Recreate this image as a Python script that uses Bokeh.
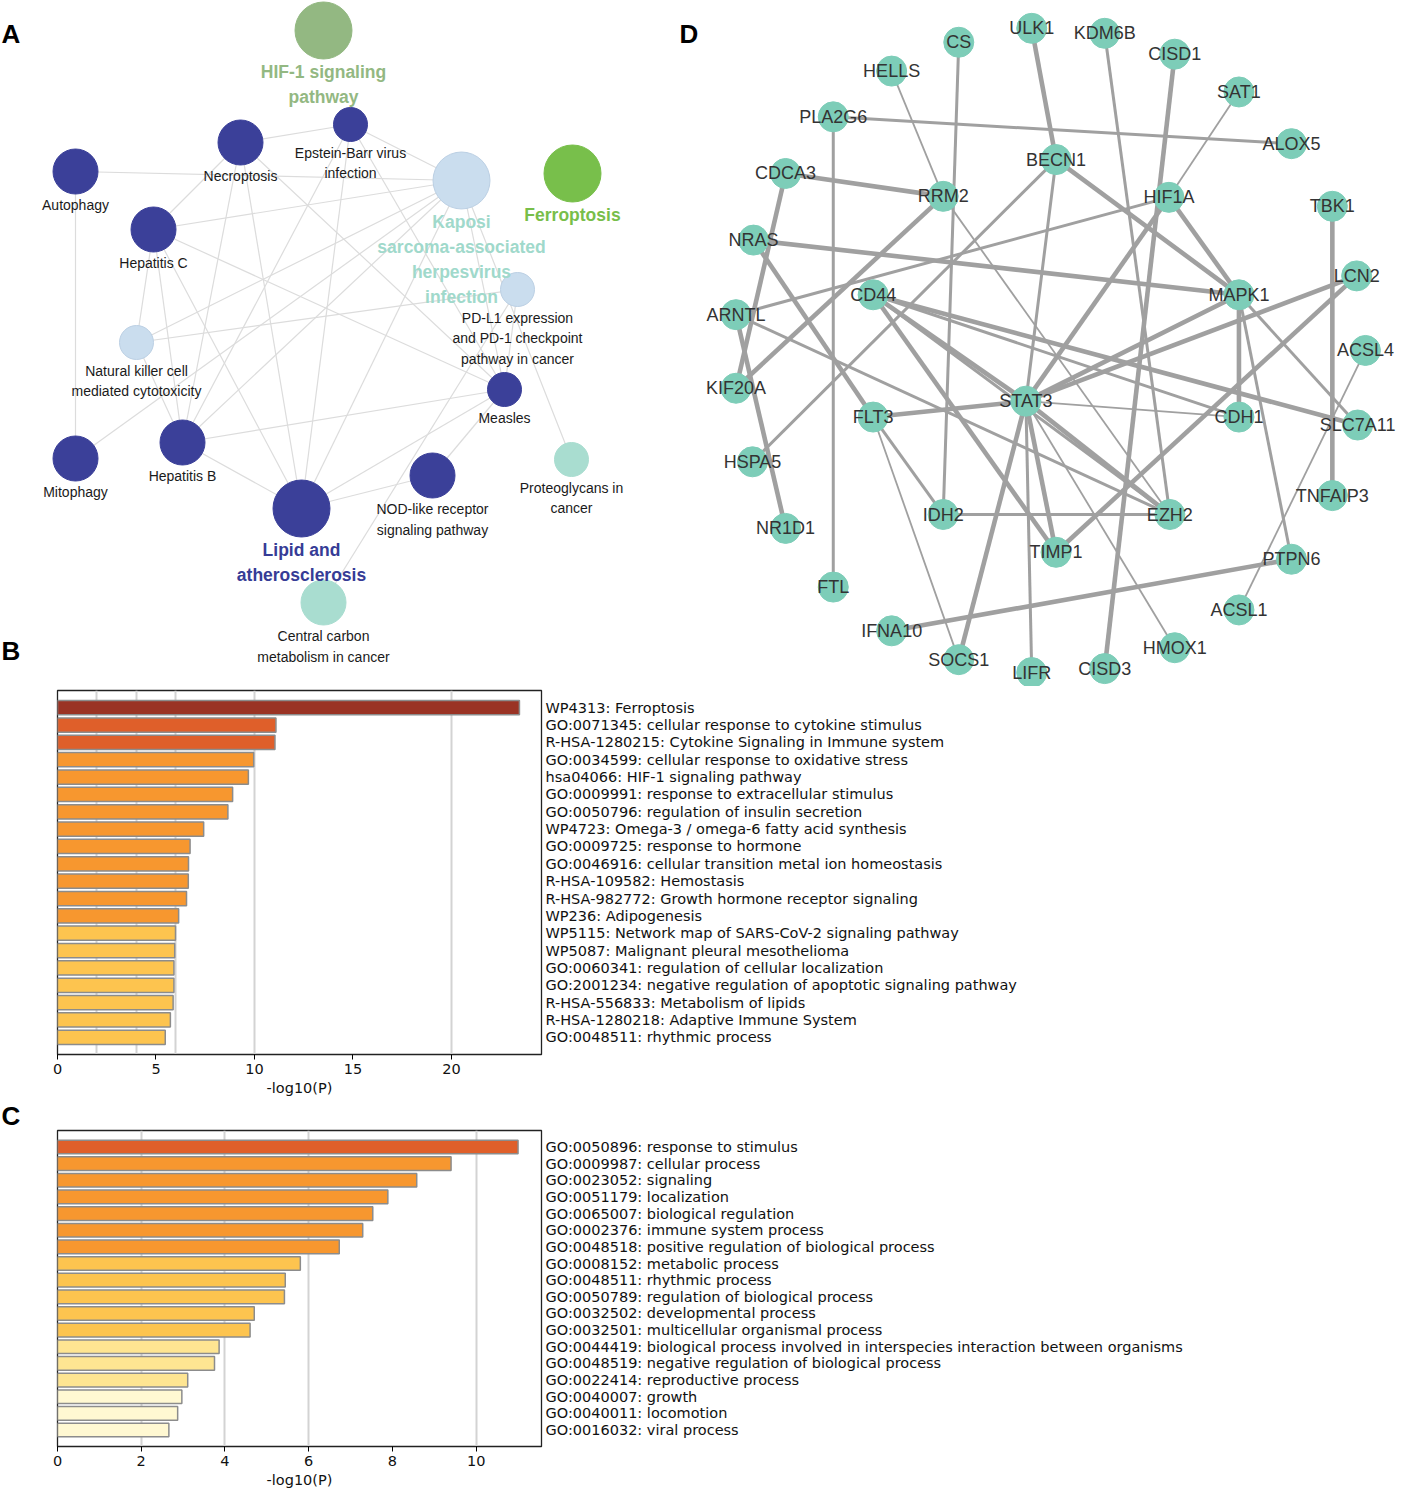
from bokeh.plotting import figure
from bokeh.models import Range1d, FixedTicker, ColumnDataSource
from bokeh.layouts import column
from bokeh.embed import file_html
from bokeh.resources import INLINE
from bokeh.core.properties import value

# ---------------- Panel A: pathway network ----------------
a_keys = ["HIF", "EBV", "NEC", "AUT", "HEPC", "KSHV", "FER", "PDL1", "NK", "MEA",
          "MIT", "HEPB", "NOD", "PRO", "LIP", "CCM"]
a_labels = ["HIF-1 signaling\npathway", "Epstein-Barr virus\ninfection", "Necroptosis",
            "Autophagy", "Hepatitis C", "Kaposi\nsarcoma-associated\nherpesvirus\ninfection",
            "Ferroptosis", "PD-L1 expression\nand PD-1 checkpoint\npathway in cancer",
            "Natural killer cell\nmediated cytotoxicity", "Measles", "Mitophagy", "Hepatitis B",
            "NOD-like receptor\nsignaling pathway", "Proteoglycans in\ncancer",
            "Lipid and\natherosclerosis", "Central carbon\nmetabolism in cancer"]
a_x = [323, 350, 240, 75, 153, 461, 572, 517, 136, 504, 75, 182, 432, 571, 301, 323]
a_y = [30, 124, 142, 171, 229, 180, 173, 289, 342, 389, 458, 442, 475, 459, 508, 602]
a_cluster = ["hif", "blue", "blue", "blue", "blue", "lblue", "ferro", "lblue", "lblue", "blue",
             "blue", "blue", "blue", "teal", "blue", "teal"]
a_rank = ["L", "S", "M", "M", "M", "L", "L", "S", "S", "S", "M", "M", "M", "S", "L", "M"]
a_edges = [("AUT", "KSHV"), ("AUT", "MIT"), ("MIT", "KSHV"), ("NEC", "EBV"), ("NEC", "HEPC"),
           ("NEC", "LIP"), ("NEC", "HEPB"), ("NEC", "MEA"), ("HEPC", "KSHV"), ("HEPC", "NK"),
           ("HEPC", "HEPB"), ("HEPC", "LIP"), ("HEPC", "MEA"), ("NK", "PDL1"), ("NK", "HEPB"),
           ("NK", "KSHV"), ("HEPB", "MEA"), ("HEPB", "LIP"), ("HEPB", "KSHV"), ("HEPB", "EBV"),
           ("LIP", "EBV"), ("LIP", "KSHV"), ("LIP", "NOD"), ("LIP", "MEA"), ("NOD", "MEA"),
           ("CCM", "PDL1"), ("PRO", "KSHV"), ("MEA", "KSHV"), ("MEA", "PDL1"), ("MEA", "EBV"),
           ("EBV", "KSHV")]

# ---------------- Panel D: gene network ----------------
d_genes = ["ULK1", "CS", "KDM6B", "HELLS", "CISD1", "SAT1", "PLA2G6", "ALOX5", "BECN1", "CDCA3",
           "RRM2", "HIF1A", "TBK1", "NRAS", "LCN2", "CD44", "MAPK1", "ARNTL", "ACSL4", "KIF20A",
           "STAT3", "FLT3", "CDH1", "SLC7A11", "HSPA5", "TNFAIP3", "IDH2", "EZH2", "NR1D1", "TIMP1",
           "PTPN6", "FTL", "ACSL1", "IFNA10", "HMOX1", "SOCS1", "LIFR", "CISD3"]
d_x = [1041, 966, 1116, 897, 1188, 1254, 837, 1308, 1066, 788, 950, 1182, 1350, 755, 1375, 878,
       1254, 737, 1384, 737, 1035, 878, 1254, 1376, 754, 1350, 950, 1183, 788, 1066, 1308, 837,
       1254, 897, 1188, 966, 1041, 1116]
d_y = [32, 46, 37, 75, 58, 96, 121, 148, 164, 178, 201, 202, 211, 245, 281, 300, 300, 320, 356,
       394, 407, 423, 423, 431, 468, 502, 521, 521, 535, 559, 566, 594, 617, 638, 655, 667, 680, 676]
d_edges = [("ULK1", "BECN1", 3), ("CS", "IDH2", 2), ("KDM6B", "EZH2", 2), ("HELLS", "RRM2", 1),
           ("CISD1", "CISD3", 3), ("SAT1", "HIF1A", 1), ("PLA2G6", "ALOX5", 2), ("PLA2G6", "FTL", 2),
           ("BECN1", "MAPK1", 3), ("BECN1", "STAT3", 2), ("BECN1", "HSPA5", 2), ("CDCA3", "RRM2", 3),
           ("CDCA3", "KIF20A", 3), ("NRAS", "MAPK1", 3), ("NRAS", "FLT3", 3), ("ARNTL", "HIF1A", 2),
           ("ARNTL", "EZH2", 2), ("ARNTL", "NR1D1", 3), ("RRM2", "KIF20A", 3), ("RRM2", "EZH2", 1),
           ("HIF1A", "MAPK1", 3), ("HIF1A", "STAT3", 3), ("TBK1", "TNFAIP3", 3), ("LCN2", "STAT3", 3),
           ("LCN2", "TIMP1", 3), ("MAPK1", "STAT3", 3), ("MAPK1", "CDH1", 3), ("MAPK1", "SLC7A11", 2),
           ("MAPK1", "PTPN6", 2), ("CD44", "SLC7A11", 3), ("CD44", "CDH1", 2), ("CD44", "STAT3", 3),
           ("CD44", "TIMP1", 3), ("CD44", "EZH2", 2), ("FLT3", "STAT3", 3), ("FLT3", "IDH2", 2),
           ("FLT3", "SOCS1", 1), ("STAT3", "CDH1", 1), ("STAT3", "EZH2", 3), ("STAT3", "TIMP1", 3),
           ("STAT3", "SOCS1", 3), ("STAT3", "LIFR", 2), ("STAT3", "HMOX1", 1), ("IDH2", "EZH2", 2),
           ("ACSL4", "ACSL1", 1), ("PTPN6", "IFNA10", 3)]

# ---------------- Panel B / C: enrichment bars ----------------
b_terms = ["WP4313: Ferroptosis",
           "GO:0071345: cellular response to cytokine stimulus",
           "R-HSA-1280215: Cytokine Signaling in Immune system",
           "GO:0034599: cellular response to oxidative stress",
           "hsa04066: HIF-1 signaling pathway",
           "GO:0009991: response to extracellular stimulus",
           "GO:0050796: regulation of insulin secretion",
           "WP4723: Omega-3 / omega-6 fatty acid synthesis",
           "GO:0009725: response to hormone",
           "GO:0046916: cellular transition metal ion homeostasis",
           "R-HSA-109582: Hemostasis",
           "R-HSA-982772: Growth hormone receptor signaling",
           "WP236: Adipogenesis",
           "WP5115: Network map of SARS-CoV-2 signaling pathway",
           "WP5087: Malignant pleural mesothelioma",
           "GO:0060341: regulation of cellular localization",
           "GO:2001234: negative regulation of apoptotic signaling pathway",
           "R-HSA-556833: Metabolism of lipids",
           "R-HSA-1280218: Adaptive Immune System",
           "GO:0048511: rhythmic process"]
b_vals = [23.45, 11.09, 11.04, 9.96, 9.69, 8.89, 8.65, 7.42, 6.73, 6.65, 6.64, 6.55, 6.15,
          5.99, 5.95, 5.91, 5.91, 5.87, 5.73, 5.47]
b_ticks = [0, 5, 10, 15, 20]

c_terms = ["GO:0050896: response to stimulus",
           "GO:0009987: cellular process",
           "GO:0023052: signaling",
           "GO:0051179: localization",
           "GO:0065007: biological regulation",
           "GO:0002376: immune system process",
           "GO:0048518: positive regulation of biological process",
           "GO:0008152: metabolic process",
           "GO:0048511: rhythmic process",
           "GO:0050789: regulation of biological process",
           "GO:0032502: developmental process",
           "GO:0032501: multicellular organismal process",
           "GO:0044419: biological process involved in interspecies interaction between organisms",
           "GO:0048519: negative regulation of biological process",
           "GO:0022414: reproductive process",
           "GO:0040007: growth",
           "GO:0040011: locomotion",
           "GO:0016032: viral process"]
c_vals = [11.0, 9.40, 8.58, 7.89, 7.53, 7.29, 6.73, 5.80, 5.44, 5.42, 4.70, 4.60, 3.86, 3.75,
          3.11, 2.97, 2.87, 2.66]
c_ticks = [0, 2, 4, 6, 8, 10]

grid_lines = [2, 4, 6, 10, 20]

# ---------------- styles ----------------
SANS = "Liberation Sans"
MPL = "DejaVu Sans"
cluster_fill = {"hif": "#93B882", "blue": "#3B4099", "lblue": "#CADDEE",
                "ferro": "#78BF4B", "teal": "#A9DDD0"}
cluster_line = {"hif": "#93B882", "blue": "#3B4099", "lblue": "#BCD0E4",
                "ferro": "#78BF4B", "teal": "#A9DDD0"}
rank_size = {"L": 57, "M": 45, "S": 34}
big_label_color = {"HIF": "#93B882", "KSHV": "#A0D9CB", "FER": "#78BE4A", "LIP": "#363C96"}
edge_width = {1: 1.8, 2: 3.0, 3: 4.6}


def bar_color(v):
    if v > 20:
        return "#9A3324"
    if v > 10:
        return "#DF5F2A"
    if v > 6:
        return "#F7972F"
    if v > 4:
        return "#FDC44F"
    if v > 3:
        return "#FEE592"
    return "#FFF8D2"


# ================= Top figure (A + D) =================
TOP_H = 686
top = figure(width=1398, height=TOP_H, x_range=Range1d(0, 1398), y_range=Range1d(TOP_H, 0),
             output_backend="svg", toolbar_location=None, x_axis_location=None,
             y_axis_location=None, min_border=0, frame_align=False)
top.grid.visible = False
top.outline_line_color = None
top.extra_x_ranges = {"dx": Range1d(-19, 1418)}
top.extra_y_ranges = {"dy": Range1d(694, 4)}
D = dict(x_range_name="dx", y_range_name="dy")

apos = {k: (x, y) for k, x, y in zip(a_keys, a_x, a_y)}
top.segment(x0=[apos[a][0] for a, b in a_edges], y0=[apos[a][1] for a, b in a_edges],
            x1=[apos[b][0] for a, b in a_edges], y1=[apos[b][1] for a, b in a_edges],
            line_color="#DCDCDC", line_width=1.2)

dpos = {g: (x, y) for g, x, y in zip(d_genes, d_x, d_y)}
top.segment(x0=[dpos[a][0] for a, b, w in d_edges], y0=[dpos[a][1] for a, b, w in d_edges],
            x1=[dpos[b][0] for a, b, w in d_edges], y1=[dpos[b][1] for a, b, w in d_edges],
            line_color="#A0A0A0", line_width=[edge_width[w] for a, b, w in d_edges], **D)

top.scatter(x=a_x, y=a_y, size=[rank_size[r] for r in a_rank],
            fill_color=[cluster_fill[c] for c in a_cluster],
            line_color=[cluster_line[c] for c in a_cluster], line_width=1)

# A labels
norm = dict(x=[], y=[], t=[])
bold = dict(x=[], y=[], t=[], c=[])
for k, lab, x, y, r in zip(a_keys, a_labels, a_x, a_y, a_rank):
    rad = rank_size[r] / 2.0
    lines = lab.split("\n")
    if r == "L":
        for i, ln in enumerate(lines):
            bold["x"].append(x); bold["y"].append(y + rad + 3 + 25 * i)
            bold["t"].append(ln); bold["c"].append(big_label_color[k])
    else:
        for i, ln in enumerate(lines):
            norm["x"].append(x); norm["y"].append(y + rad + 3 + 20.5 * i)
            norm["t"].append(ln)
top.text(x="x", y="y", text="t", source=ColumnDataSource(norm), text_align="center",
         text_baseline="top", text_font=value(SANS), text_font_size="14px", text_color="#1a1a1a")
top.text(x="x", y="y", text="t", source=ColumnDataSource(bold), text_align="center",
         text_baseline="top", text_font=value(SANS), text_font_size="17.5px",
         text_font_style="bold", text_color="c")

# D nodes + labels
top.scatter(x=d_x, y=d_y, size=30, fill_color="#7DCDB8", line_color="#7DCDB8", **D)
top.text(x=d_x, y=d_y, text=d_genes, text_align="center", text_baseline="middle",
         text_font=value(SANS), text_font_size="18px", text_color="#333333", **D)

# panel letters
top.text(x=[1, 679, 1], y=[33, 33, 650], text=["A", "D", "B"], text_align="left",
         text_baseline="middle", text_font=value(SANS), text_font_size="26px",
         text_font_style="bold", text_color="black")


# ================= Bar figures =================
def bar_fig(terms, vals, ticks, xmax, height, top_b, bottom_b):
    n = len(terms)
    src = ColumnDataSource(dict(i=list(range(n)), v=vals, c=[bar_color(v) for v in vals]))
    p = figure(width=1398, height=height, x_range=Range1d(0, xmax),
               y_range=Range1d(n - 1 + 0.99, -0.99), output_backend="svg",
               toolbar_location=None, y_axis_location="right", min_border_left=57,
               min_border_right=857, min_border_top=top_b, min_border_bottom=bottom_b,
               frame_align=False)
    p.hbar(y="i", left=0, right="v", height=0.82, fill_color="c", line_color="#8C8C8C",
           line_width=1.5, source=src)
    p.outline_line_color = "#222222"
    p.outline_line_width = 1.3
    p.ygrid.visible = False
    p.xgrid.ticker = FixedTicker(ticks=grid_lines)
    p.xgrid.grid_line_color = "#D3D3D3"
    p.xgrid.grid_line_width = 2
    xa = p.xaxis[0]
    xa.ticker = FixedTicker(ticks=ticks)
    xa.axis_label = "-log10(P)"
    xa.axis_label_text_font = MPL
    xa.axis_label_text_font_size = "14.5px"
    xa.axis_label_text_font_style = "normal"
    xa.axis_label_text_color = "#111111"
    xa.axis_label_standoff = 3
    xa.major_label_text_font = MPL
    xa.major_label_text_font_size = "14.5px"
    xa.major_label_text_color = "#111111"
    xa.major_label_standoff = 4
    xa.major_tick_in = 0
    xa.major_tick_out = 5
    xa.minor_tick_line_color = None
    xa.axis_line_color = "#222222"
    ya = p.yaxis[0]
    ya.ticker = FixedTicker(ticks=list(range(n)))
    ya.major_label_overrides = {i: t for i, t in enumerate(terms)}
    ya.major_tick_line_color = None
    ya.minor_tick_line_color = None
    ya.major_tick_in = 0
    ya.major_tick_out = 0
    ya.axis_line_color = None
    ya.major_label_standoff = 4
    ya.major_label_text_font = MPL
    ya.major_label_text_font_size = "14.5px"
    ya.major_label_text_color = "#111111"
    return p


pb = bar_fig(b_terms, b_vals, b_ticks, 24.57, 412, 4, 40)
pc = bar_fig(c_terms, c_vals, c_ticks, 11.56, 392, 0, 42)
pc.title.text = "C"
pc.title.align = "left"
pc.title.offset = -56
pc.title.standoff = 0
pc.title.text_line_height = 0.95
pc.title.text_font = SANS
pc.title.text_font_size = "26px"
pc.title.text_font_style = "bold"
pc.title.text_color = "black"

layout = column(top, pb, pc, spacing=0)
open("out.html", "w").write(file_html(layout, INLINE))
